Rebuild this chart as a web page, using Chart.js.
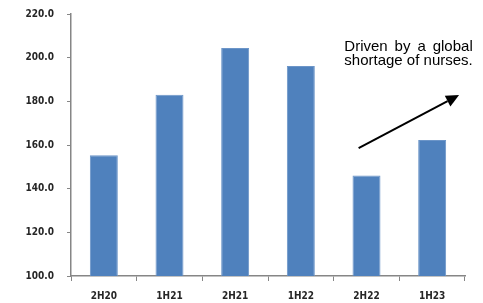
<!DOCTYPE html>
<html>
<head>
<meta charset="utf-8">
<script src="https://cdn.jsdelivr.net/npm/chart.js@4/dist/chart.umd.min.js"></script>
<style>
  html, body { margin: 0; padding: 0; background: #fff; }
  #wrap { width: 483px; height: 303px; }
</style>
</head>
<body>
<div id="wrap"><canvas id="chart"></canvas></div>
<script>
const periods = ["2H20", "1H21", "2H21", "1H22", "2H22", "1H23"];
const values = [155.3, 183.0, 204.4, 196.2, 146.0, 162.3];
const yTicks = [100, 120, 140, 160, 180, 200, 220];

// callout, positioned in data units (category index, value)
const noteLines = ["Driven by a global", "shortage of nurses."];
const noteAnchor = { x: 4.64, y: 205 };
const arrowFrom = { x: 3.88, y: 158.6 };
const arrowTo = { x: 5.41, y: 182.9 };

const axisColor = "#868686";
const labelColor = "#262626";
const tickFont = { family: "DejaVu Sans Condensed", weight: "bold", size: 10 };

const calloutPlugin = {
  id: "callout",
  afterDraw(chart) {
    const { ctx, scales: { x, y } } = chart;
    ctx.save();
    // arrow
    const x1 = x.getPixelForValue(arrowFrom.x), y1 = y.getPixelForValue(arrowFrom.y);
    const x2 = x.getPixelForValue(arrowTo.x), y2 = y.getPixelForValue(arrowTo.y);
    const ang = Math.atan2(y2 - y1, x2 - x1);
    const head = 13, half = 6;
    const bx = x2 - head * Math.cos(ang), by = y2 - head * Math.sin(ang);
    ctx.strokeStyle = "#000";
    ctx.fillStyle = "#000";
    ctx.lineWidth = 2;
    ctx.beginPath();
    ctx.moveTo(x1, y1);
    ctx.lineTo(bx, by);
    ctx.stroke();
    ctx.beginPath();
    ctx.moveTo(x2, y2);
    ctx.lineTo(bx + half * Math.sin(ang), by - half * Math.cos(ang));
    ctx.lineTo(bx - half * Math.sin(ang), by + half * Math.cos(ang));
    ctx.closePath();
    ctx.fill();

    // justified two-line note
    ctx.font = '15px "Liberation Sans", Arial, sans-serif';
    ctx.fillStyle = "#000";
    ctx.textBaseline = "middle";
    const cx = x.getPixelForValue(noteAnchor.x);
    const top = y.getPixelForValue(noteAnchor.y);
    const lineH = 14;
    const fullW = Math.max(...noteLines.map((l) => ctx.measureText(l).width));
    noteLines.forEach((line, i) => {
      const words = line.split(" ");
      const wordsW = words.reduce((s, w) => s + ctx.measureText(w).width, 0);
      const gap = words.length > 1 ? (fullW - wordsW) / (words.length - 1) : 0;
      let px = cx - fullW / 2;
      words.forEach((w) => {
        ctx.fillText(w, px, top + i * lineH);
        px += ctx.measureText(w).width + gap;
      });
    });
    ctx.restore();
  },
};

new Chart(document.getElementById("chart"), {
  type: "bar",
  data: {
    labels: periods,
    datasets: [
      {
        data: values,
        backgroundColor: "#4F81BD",
        borderColor: "#6C95C8",
        borderWidth: 1,
        categoryPercentage: 0.6,
        barPercentage: 0.71,
      },
    ],
  },
  options: {
    responsive: true,
    maintainAspectRatio: false,
    animation: false,
    layout: { padding: { top: 14, right: 18, left: 0, bottom: 0 } },
    plugins: { legend: { display: false }, tooltip: { enabled: false } },
    scales: {
      x: {
        offset: true,
        grid: {
          offset: true,
          drawOnChartArea: false,
          drawTicks: true,
          tickLength: 5,
          color: axisColor,
        },
        border: { color: axisColor, width: 1.5 },
        ticks: {
          color: labelColor,
          padding: 9,
          font: tickFont,
        },
        afterFit: (scale) => { scale.height = 27; },
      },
      y: {
        min: 100,
        max: 220,
        afterBuildTicks: (scale) => {
          scale.ticks = yTicks.map((v) => ({ value: v }));
        },
        grid: {
          drawOnChartArea: false,
          drawTicks: true,
          tickLength: 4,
          color: axisColor,
        },
        border: { color: axisColor, width: 1.5 },
        ticks: {
          color: labelColor,
          padding: 13,
          font: tickFont,
          callback: (v) => Number(v).toFixed(1),
        },
        afterFit: (scale) => {
          scale.width = 71;
          scale.paddingTop = 0;
          scale.paddingBottom = 0;
        },
      },
    },
  },
  plugins: [calloutPlugin],
});
</script>
</body>
</html>
